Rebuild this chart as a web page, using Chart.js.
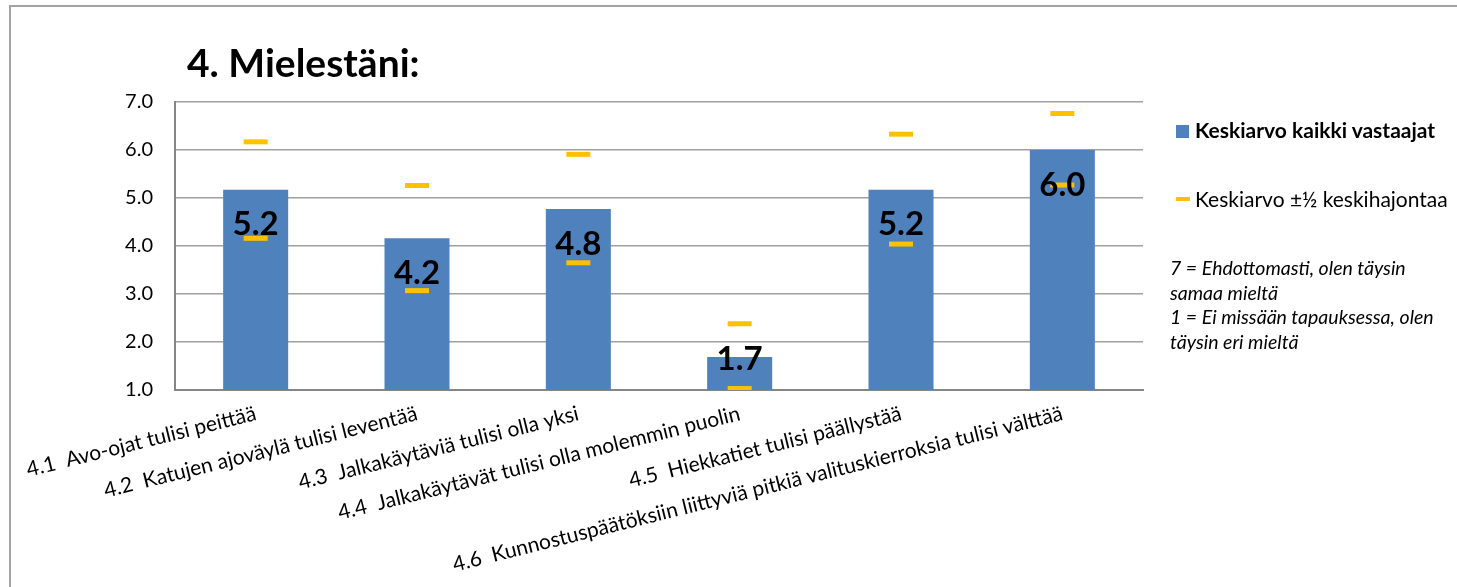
<!DOCTYPE html>
<html>
<head>
<meta charset="utf-8">
<script src="https://cdn.jsdelivr.net/npm/chart.js@4/dist/chart.umd.min.js"></script>
<style>
  html, body { margin: 0; padding: 0; background: #fff; overflow: hidden; }
  body { width: 1457px; height: 587px; position: relative; font-family: Lato, "Noto Sans", sans-serif; color: #000; }
  #frame { position: absolute; left: 9px; top: 5px; width: 1600px; height: 800px; border: 2px solid #a3a3a3; box-sizing: border-box; }
  #wrap { position: absolute; left: 0; top: 0; width: 1457px; height: 587px; }
  #title { position: absolute; left: 187px; top: 39px; font-size: 39px; font-weight: bold; white-space: nowrap; }
  .leg { position: absolute; left: 1176px; white-space: nowrap; font-size: 21px; line-height: 25px; }
  .leg .box { display: inline-block; width: 13px; height: 13px; background: #4F81BD; margin-right: 6px; vertical-align: 0px; }
  .leg .dash { display: inline-block; width: 14px; height: 4px; background: #FFC000; margin-right: 5px; vertical-align: 6px; }
  #note { position: absolute; left: 1170px; top: 256px; font-size: 19.5px; font-style: italic; line-height: 24.7px; white-space: nowrap; }
</style>
</head>
<body>
<div id="frame"></div>
<div id="wrap"><canvas id="chart" width="1457" height="587"></canvas></div>
<div id="title">4. Mielestäni:</div>
<div class="leg" style="top:117px;font-weight:bold;"><span class="box"></span>Keskiarvo kaikki vastaajat</div>
<div class="leg" style="top:186px;"><span class="dash"></span>Keskiarvo ±½ keskihajontaa</div>
<div id="note">7 = Ehdottomasti, olen täysin<br>samaa mieltä<br>1 = Ei missään tapauksessa, olen<br>täysin eri mieltä</div>
<script>
// category labels (x axis)
const categories = [
  "4.1  Avo-ojat tulisi peittää",
  "4.2  Katujen ajoväylä tulisi leventää",
  "4.3  Jalkakäytäviä tulisi olla yksi",
  "4.4  Jalkakäytävät tulisi olla molemmin puolin",
  "4.5  Hiekkatiet tulisi päällystää",
  "4.6  Kunnostuspäätöksiin liittyviä pitkiä valituskierroksia tulisi välttää"
];

// mean of all respondents
const means = [5.17, 4.16, 4.77, 1.69, 5.17, 6.0];
// mean + half std dev / mean - half std dev
const upper = [6.17, 5.26, 5.91, 2.38, 6.33, 6.76];
const lower = [4.16, 3.07, 3.65, 1.03, 4.04, 5.27];
// labels shown on the bars
const barLabels = ["5.2", "4.2", "4.8", "1.7", "5.2", "6.0"];

const yTicks = [1, 2, 3, 4, 5, 6, 7];

// draws the big value labels inside the bars
const valueLabels = {
  id: "valueLabels",
  afterDatasetsDraw(chart) {
    const ctx = chart.ctx;
    const meta = chart.getDatasetMeta(0);
    const base = chart.scales.y.getPixelForValue(1);
    ctx.save();
    ctx.font = "bold 33px Lato, sans-serif";
    ctx.fillStyle = "#000";
    ctx.textAlign = "center";
    ctx.textBaseline = "middle";
    meta.data.forEach((bar, i) => {
      const y = Math.min(bar.y + 35, base - 31);
      ctx.fillText(barLabels[i], bar.x, y);
    });
    ctx.restore();
  }
};

const ctx = document.getElementById("chart").getContext("2d");
new Chart(ctx, {
  data: {
    labels: categories,
    datasets: [
      {
        type: "bar",
        label: "Keskiarvo kaikki vastaajat",
        data: means,
        backgroundColor: "#4F81BD",
        barPercentage: 0.403,
        categoryPercentage: 1.0,
        order: 2
      },
      {
        type: "line",
        label: "Keskiarvo ±½ keskihajontaa",
        data: upper,
        showLine: false,
        pointStyle: "line",
        pointRadius: 12,
        pointBorderWidth: 5,
        pointBorderColor: "#FFC000",
        borderColor: "#FFC000",
        order: 1
      },
      {
        type: "line",
        label: "lower",
        data: lower,
        showLine: false,
        pointStyle: "line",
        pointRadius: 12,
        pointBorderWidth: 5,
        pointBorderColor: "#FFC000",
        borderColor: "#FFC000",
        order: 1
      }
    ]
  },
  options: {
    responsive: false,
    animation: false,
    layout: { padding: { left: 100, top: 102, right: 314, bottom: 7 } },
    plugins: {
      legend: { display: false },
      tooltip: { enabled: false }
    },
    scales: {
      x: {
        grid: { display: false, drawTicks: false },
        border: { color: "#868686", width: 2 },
        ticks: {
          autoSkip: false,
          minRotation: 14,
          maxRotation: 14,
          padding: 11,
          color: "#000",
          font: { family: "Lato", size: 21 }
        },
        afterFit: (s) => { s.height = 190; }
      },
      y: {
        min: 1,
        max: 7,
        afterBuildTicks: (s) => { s.ticks = yTicks.map(v => ({ value: v })); },
        grid: { color: "#a0a0a0", lineWidth: 1.5, drawTicks: false },
        border: { color: "#868686", width: 2 },
        ticks: {
          padding: 22,
          color: "#000",
          font: { family: "Lato", size: 20 },
          callback: (v) => Number(v).toFixed(1)
        },
        afterFit: (s) => { s.width = 75; }
      }
    }
  },
  plugins: [valueLabels]
});
</script>
</body>
</html>
